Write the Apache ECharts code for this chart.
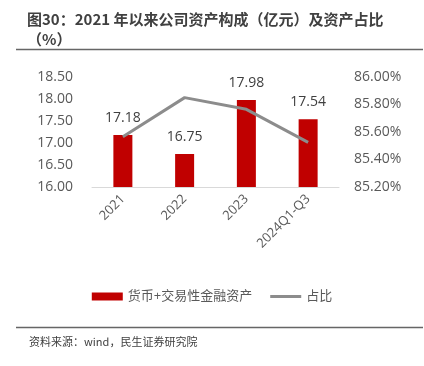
<!DOCTYPE html>
<html>
<head>
<meta charset="utf-8" />
<title>资产构成</title>
<style>
  html, body { margin: 0; padding: 0; background: #fff; }
  #chartBox { width: 424px; height: 366px; }
</style>
</head>
<body>
<div id="chartBox"></div>
<script src="https://cdn.jsdelivr.net/npm/echarts@6/dist/echarts.min.js"></script>
<script>
var categories = ['2021', '2022', '2023', '2024Q1-Q3'];
var assetValues = [17.18, 16.75, 17.98, 17.54];   // 货币+交易性金融资产（亿元）
var shareValues = [85.565, 85.85, 85.765, 85.525]; // 占比（%）
var seriesNames = ['货币+交易性金融资产', '占比'];

var _font = '"Open Sans", "Noto Sans CJK SC", sans-serif';
var _grey = '#595959';

var myChart = echarts.init(document.getElementById('chartBox'));
var option = {
  animation: false,
  title: [{
    text: '图30：2021 年以来公司资产构成（亿元）及资产占比\n（%）',
    left: 22,
    top: 4,
    textStyle: {
      fontSize: 15,
      fontWeight: 'bold',
      color: '#404040',
      fontFamily: '"Noto Sans CJK SC", sans-serif',
      lineHeight: 20
    }
  }, {
    text: '资料来源：wind，民生证券研究院',
    left: 24,
    top: 331,
    textStyle: {
      fontSize: 11,
      fontWeight: 'normal',
      color: '#404040',
      fontFamily: '"Noto Sans CJK SC", sans-serif'
    }
  }],
  graphic: [{
    type: 'line',
    shape: { x1: 16, y1: 49.5, x2: 423, y2: 49.5 },
    style: { stroke: '#666666', lineWidth: 1.5 }
  }, {
    type: 'line',
    shape: { x1: 16, y1: 327.5, x2: 423, y2: 327.5 },
    style: { stroke: '#666666', lineWidth: 1.5 }
  }],
  legend: {
    data: [
      { name: seriesNames[0], icon: 'rect' },
      { name: seriesNames[1], icon: 'path://M0,0L31,0L31,3L0,3Z' }
    ],
    top: 285,
    left: 'center',
    itemGap: 18,
    itemWidth: 31,
    itemHeight: 8,
    textStyle: { fontSize: 13, color: _grey, fontFamily: _font }
  },
  grid: {
    left: 92,
    right: 85,
    top: 77,
    bottom: 179,
    containLabel: false
  },
  xAxis: {
    type: 'category',
    data: categories,
    axisLine: { lineStyle: { color: '#d9d9d9', width: 1 } },
    axisTick: { show: false },
    axisLabel: {
      rotate: 45,
      margin: 10,
      fontSize: 13,
      color: _grey,
      fontFamily: _font
    }
  },
  yAxis: [{
    type: 'value',
    min: 16,
    max: 18.5,
    interval: 0.5,
    splitLine: { show: false },
    axisLine: { show: false },
    axisTick: { show: false },
    axisLabel: {
      margin: 19,
      fontSize: 14,
      color: _grey,
      fontFamily: _font,
      formatter: function (v) { return v.toFixed(2); }
    }
  }, {
    type: 'value',
    min: 85.2,
    max: 86,
    interval: 0.2,
    splitLine: { show: false },
    axisLine: { show: false },
    axisTick: { show: false },
    axisLabel: {
      margin: 15,
      fontSize: 14,
      color: _grey,
      fontFamily: _font,
      formatter: function (v) { return v.toFixed(2) + '%'; }
    }
  }],
  series: [{
    name: seriesNames[0],
    type: 'bar',
    yAxisIndex: 0,
    barWidth: 19,
    itemStyle: { color: '#c00000' },
    label: {
      show: true,
      position: 'top',
      distance: 10,
      fontSize: 14,
      color: '#404040',
      fontFamily: _font,
      formatter: function (p) { return p.value.toFixed(2); }
    },
    data: assetValues
  }, {
    name: seriesNames[1],
    type: 'line',
    yAxisIndex: 1,
    symbol: 'none',
    lineStyle: { color: '#8c8c8c', width: 3 },
    itemStyle: { color: '#8c8c8c' },
    data: shareValues
  }]
};
myChart.setOption(option);
</script>
</body>
</html>
